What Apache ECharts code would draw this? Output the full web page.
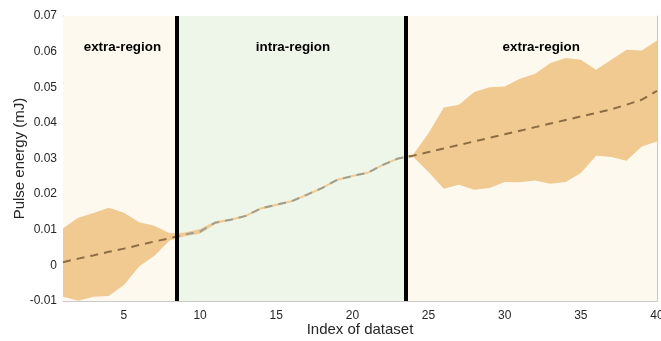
<!DOCTYPE html>
<html><head><meta charset="utf-8">
<script src="https://cdn.jsdelivr.net/npm/echarts@6/dist/echarts.min.js"></script>
<style>html,body{margin:0;padding:0;background:#fff}#c{width:661px;height:341px}</style>
</head><body><div id="c"></div>
<script>
const xIndex = [1,2,3,4,5,6,7,8,9,10,11,12,13,14,15,16,17,18,19,20,21,22,23,24,25,26,27,28,29,30,31,32,33,34,35,36,37,38,39,40];
const meanEnergy = [0.0009,0.0019,0.0028,0.0038,0.0047,0.0057,0.0067,0.0076,0.0087,0.0095,0.0120,0.0128,0.0139,0.0160,0.0170,0.0180,0.0198,0.0217,0.0240,0.0251,0.0260,0.0282,0.0300,0.0308,0.0318,0.0328,0.0338,0.0348,0.0358,0.0368,0.0378,0.0388,0.0398,0.0408,0.0418,0.0428,0.0438,0.0451,0.0465,0.0490];
const upperEnergy = [0.0104,0.0134,0.0147,0.0162,0.0148,0.0121,0.0111,0.0090,0.0092,0.0102,0.0124,0.0131,0.0142,0.0163,0.0173,0.0183,0.0201,0.0220,0.0243,0.0254,0.0263,0.0285,0.0303,0.0312,0.0371,0.0443,0.0451,0.0487,0.0500,0.0502,0.0524,0.0538,0.0568,0.0582,0.0577,0.0549,0.0577,0.0605,0.0603,0.0631];
const lowerEnergy = [-0.0088,-0.0099,-0.0088,-0.0086,-0.0055,-0.0003,0.0027,0.0070,0.0082,0.0089,0.0116,0.0125,0.0136,0.0157,0.0167,0.0177,0.0195,0.0214,0.0237,0.0248,0.0257,0.0279,0.0297,0.0304,0.0262,0.0215,0.0226,0.0212,0.0217,0.0234,0.0233,0.0238,0.0229,0.0234,0.0259,0.0308,0.0304,0.0294,0.0334,0.0348];
const regionBounds = [1, 8.5, 23.5, 40];
const regionNames = ['extra-region','intra-region','extra-region'];
const regionLabelPos = [[4.9,0.0612],[16.1,0.0612],[32.4,0.0612]];
const xTicks = [5,10,15,20,25,30,35,40];
const yMin = -0.01, yMax = 0.07, yStep = 0.01;

const FONT = '"Liberation Sans", Arial, sans-serif';
const axisGray = '#c9c9c9';
const chart = echarts.init(document.getElementById('c'), null, {renderer:'canvas'});

const meanData = xIndex.map((x,i)=>[x, meanEnergy[i]]);
const bandData = xIndex.map((x,i)=>[x, lowerEnergy[i], upperEnergy[i]]);
const regionColors = ['#fef9ee','#eef6ea','#fef9ee'];

const option = {
  animation:false,
  grid:{left:63,right:4,top:16,bottom:40,containLabel:false,outerBoundsMode:'none'},
  xAxis:[{
    type:'value',min:1,max:40,position:'bottom',
    name:'Index of dataset',nameLocation:'middle',nameGap:21,nameMoveOverlap:false,
    nameTextStyle:{fontFamily:FONT,fontSize:15,color:'#262626'},
    axisLine:{onZero:false,lineStyle:{color:axisGray,width:1}},
    axisTick:{inside:true,length:5,customValues:xTicks,lineStyle:{color:axisGray}},
    axisLabel:{customValues:xTicks,fontFamily:FONT,fontSize:12,color:'#262626',margin:9},
    splitLine:{show:false}
  },{
    type:'value',min:1,max:40,position:'top',
    axisLine:{onZero:false,lineStyle:{color:axisGray,width:1}},
    axisTick:{inside:true,length:5,customValues:xTicks,lineStyle:{color:axisGray}},
    axisLabel:{show:false},splitLine:{show:false}
  }],
  yAxis:[{
    type:'value',min:yMin,max:yMax,interval:yStep,position:'left',
    name:'Pulse energy (mJ)',nameLocation:'middle',nameGap:36,nameMoveOverlap:false,
    nameTextStyle:{fontFamily:FONT,fontSize:15,color:'#262626'},
    axisLine:{show:true,onZero:false,lineStyle:{color:axisGray,width:1}},
    axisTick:{show:true,inside:true,length:5,lineStyle:{color:axisGray}},
    axisLabel:{fontFamily:FONT,fontSize:12,color:'#262626',margin:6,
      formatter:v=>{const r=Math.round(v*100)/100;return r===0?'0':String(r);}},
    splitLine:{show:false}
  },{
    type:'value',min:yMin,max:yMax,interval:yStep,position:'right',
    axisLine:{show:true,onZero:false,lineStyle:{color:axisGray,width:1}},
    axisTick:{show:true,inside:true,length:5,lineStyle:{color:axisGray}},
    axisLabel:{show:false},splitLine:{show:false}
  }],
  visualMap:{
    show:false,type:'piecewise',seriesIndex:2,dimension:0,
    pieces:[
      {lt:regionBounds[1],color:'#8c6c42'},
      {gte:regionBounds[1],lt:regionBounds[2],color:'#9e9e92'},
      {gte:regionBounds[2],color:'#8c6c42'}
    ]
  },
  series:[
    {
      type:'line',data:meanData,z:1,symbol:'none',silent:true,
      lineStyle:{opacity:0},
      markArea:{silent:true,data:[0,1,2].map(i=>[
        {xAxis:regionBounds[i],itemStyle:{color:regionColors[i]}},
        {xAxis:regionBounds[i+1]}
      ])}
    },
    {
      type:'custom',z:2,silent:true,data:bandData,
      encode:{x:0,y:[1,2]},
      renderItem:(params,api)=>{
        if(params.dataIndex!==0) return null;
        const pts=[];
        for(let i=0;i<xIndex.length;i++) pts.push(api.coord([xIndex[i],upperEnergy[i]]));
        for(let i=xIndex.length-1;i>=0;i--) pts.push(api.coord([xIndex[i],lowerEnergy[i]]));
        return {type:'polygon',shape:{points:pts},style:{fill:'#f1ca92',stroke:null}};
      }
    },
    {
      type:'line',data:meanData,z:3,symbol:'none',silent:true,
      lineStyle:{width:2,type:[8,6]}
    },
    {
      type:'scatter',z:5,silent:true,symbolSize:0,
      data:regionLabelPos.map((p,i)=>({value:p,label:{show:true,formatter:regionNames[i]}})),
      label:{position:'inside',fontFamily:FONT,fontSize:13.4,fontWeight:'bold',color:'#000',opacity:1},
      markLine:{silent:true,symbol:'none',label:{show:false},
        lineStyle:{color:'#000',width:4,type:'solid'},
        data:[{xAxis:regionBounds[1]},{xAxis:regionBounds[2]}]}
    }
  ]
};
chart.setOption(option);
</script></body></html>
